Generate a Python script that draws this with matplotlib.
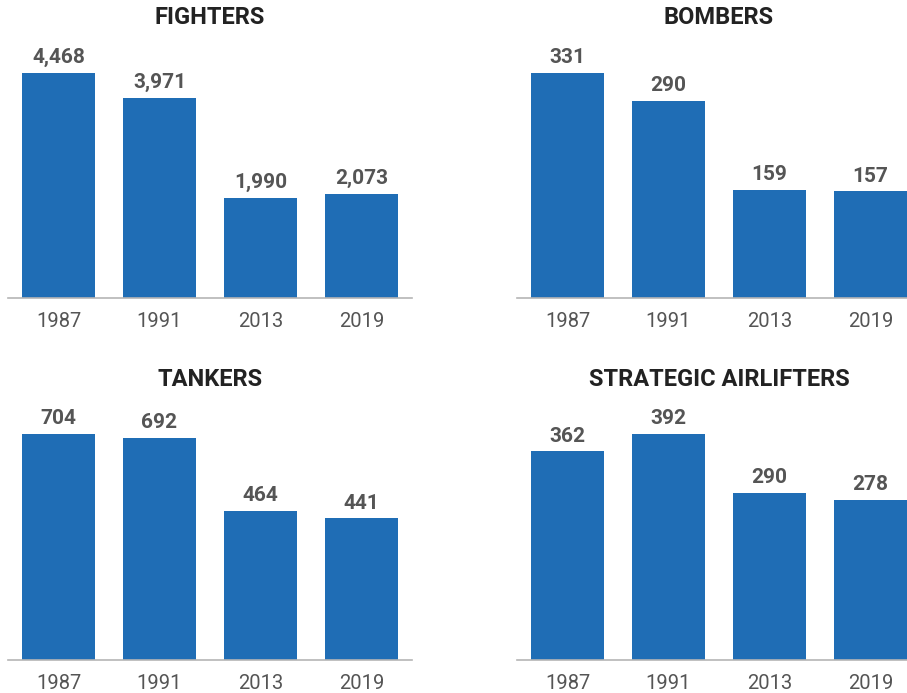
import matplotlib
matplotlib.use("Agg")
import matplotlib.pyplot as plt

plt.rcParams["font.family"] = ["Roboto", "DejaVu Sans"]

# data
years = ["1987", "1991", "2013", "2019"]
titles = ["FIGHTERS", "BOMBERS", "TANKERS", "STRATEGIC AIRLIFTERS"]
fighters = [4468, 3971, 1990, 2073]
bombers = [331, 290, 159, 157]
tankers = [704, 692, 464, 441]
airlifters = [362, 392, 290, 278]
series = [fighters, bombers, tankers, airlifters]

bar_color = "#1f6db5"
W, H = 907, 693
fig = plt.figure(figsize=(W / 100, H / 100), dpi=100)

# axes boxes in pixels: left, baseline y, top y
boxes = [(8, 298, 40), (517, 298, 40), (8, 660, 401), (517, 660, 401)]
bar_top = [73, 73, 434, 434]

for i, (vals, title) in enumerate(zip(series, titles)):
    left, base, top = boxes[i]
    ax = fig.add_axes([left / W, 1 - base / H, 404 / W, (base - top) / H])
    x = range(len(vals))
    ax.bar(x, vals, width=0.72, color=bar_color)
    ax.set_xlim(-0.5, 3.5)
    ymax = max(vals) * (base - top) / (base - bar_top[i])
    ax.set_ylim(0, ymax)
    for xi, v in zip(x, vals):
        ax.annotate(f"{v:,}", (xi, v), xytext=(0, 4), textcoords="offset points",
                    ha="center", va="bottom", fontsize=15, fontweight="bold",
                    color="#555555")
    ax.set_xticks(list(x))
    ax.set_xticklabels(years, fontsize=14.5, color="#555555")
    ax.tick_params(axis="x", length=0, pad=10)
    ax.set_yticks([])
    for s in ["top", "right", "left"]:
        ax.spines[s].set_visible(False)
    ax.spines["bottom"].set_color("#b5b5b5")
    ax.spines["bottom"].set_linewidth(1.2)
    fig.text((left + 202) / W, 1 - (top - 22) / H, title, ha="center", va="center",
             fontsize=17, fontweight="bold", color="#222222")

fig.savefig("out.png", dpi=100)
